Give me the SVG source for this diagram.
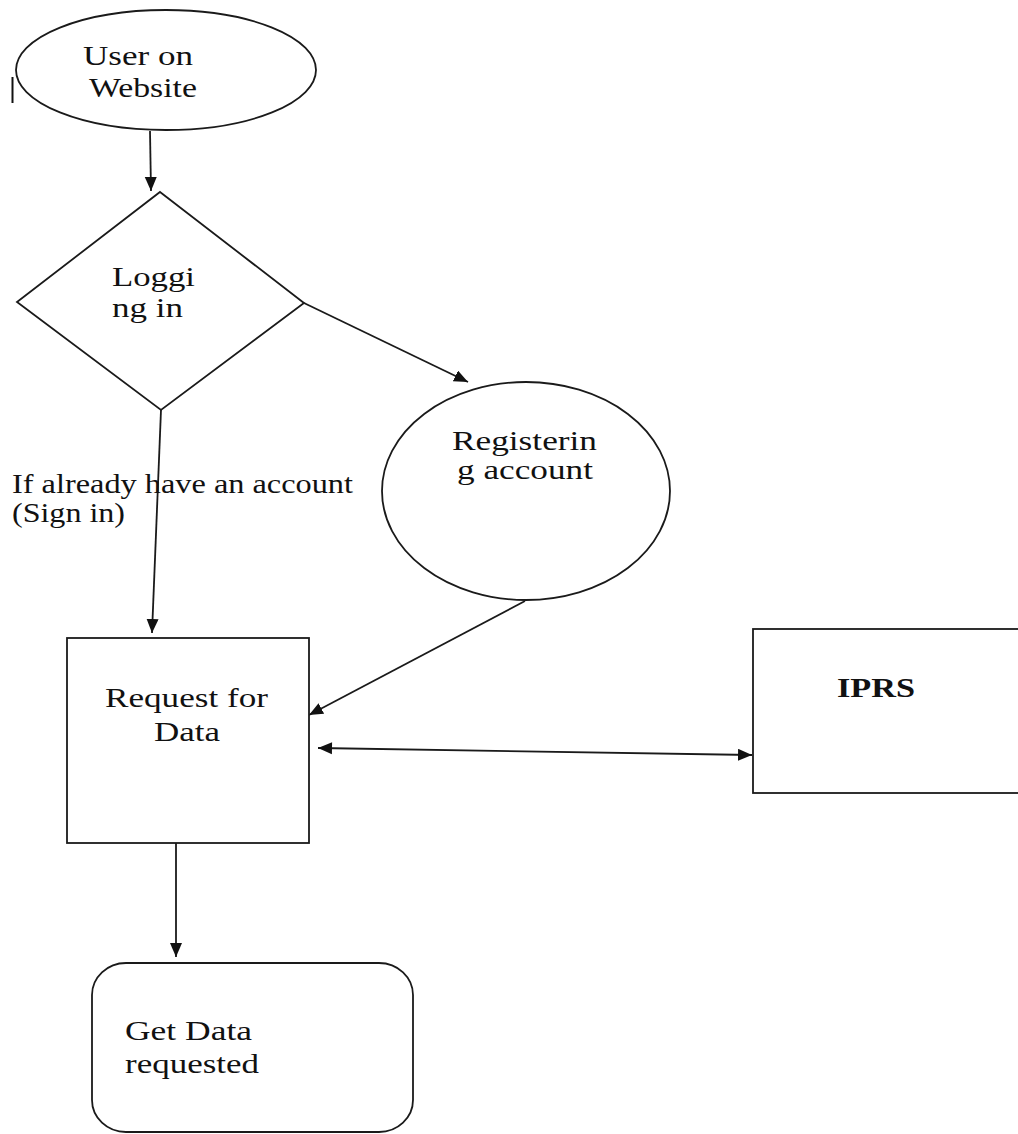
<svg xmlns="http://www.w3.org/2000/svg" width="1018" height="1134" viewBox="0 0 1018 1134">
<style>
.shape{fill:#fff;stroke:#1a1a1a;stroke-width:1.8}
.conn{fill:none;stroke:#1a1a1a;stroke-width:1.8}
.t{font-family:"Liberation Serif","Times New Roman",serif;font-size:27px;fill:#111}
.b{font-weight:bold}
</style>
<defs>
<marker id="ah" markerUnits="userSpaceOnUse" markerWidth="16" markerHeight="14" refX="14" refY="6" orient="auto">
<path d="M0,0 L14,6 L0,12 Z" fill="#111"/>
</marker>
<marker id="ahs" markerUnits="userSpaceOnUse" markerWidth="16" markerHeight="14" refX="0" refY="6" orient="auto">
<path d="M14,0 L0,6 L14,12 Z" fill="#111"/>
</marker>
</defs>
<rect width="1018" height="1134" fill="#fff"/>
<line x1="12.5" y1="77" x2="12.5" y2="103" stroke="#111" stroke-width="2"/>
<g id="connectors">
<line class="conn" x1="150" y1="131" x2="151" y2="191" marker-end="url(#ah)"/>
<line class="conn" x1="304" y1="303" x2="468" y2="382" marker-end="url(#ah)"/>
<line class="conn" x1="161" y1="410" x2="152" y2="633" marker-end="url(#ah)"/>
<line class="conn" x1="525" y1="601" x2="309" y2="715" marker-end="url(#ah)"/>
<line class="conn" x1="318" y1="748" x2="752" y2="755" marker-start="url(#ahs)" marker-end="url(#ah)"/>
<line class="conn" x1="176" y1="843" x2="176" y2="957" marker-end="url(#ah)"/>
</g>
<g id="user">
<ellipse class="shape" cx="166" cy="70" rx="150" ry="60"/>
<text class="t" x="83" y="65" textLength="110" lengthAdjust="spacingAndGlyphs">User on</text>
<text class="t" x="89" y="97" textLength="108" lengthAdjust="spacingAndGlyphs">Website</text>
</g>
<g id="logging">
<polygon class="shape" points="160,192 304,303 161,410 17,302"/>
<text class="t" x="112" y="286" textLength="83" lengthAdjust="spacingAndGlyphs">Loggi</text>
<text class="t" x="112" y="317" textLength="71" lengthAdjust="spacingAndGlyphs">ng in</text>
</g>
<g id="label-signin">
<text class="t" x="12" y="493" textLength="341" lengthAdjust="spacingAndGlyphs">If already have an account</text>
<text class="t" x="12" y="522" textLength="113" lengthAdjust="spacingAndGlyphs">(Sign in)</text>
</g>
<g id="registering">
<ellipse class="shape" cx="526" cy="491" rx="144" ry="109"/>
<text class="t" x="452" y="450" textLength="145" lengthAdjust="spacingAndGlyphs">Registerin</text>
<text class="t" x="457" y="479" textLength="136" lengthAdjust="spacingAndGlyphs">g account</text>
</g>
<g id="request">
<rect class="shape" x="67" y="638" width="242" height="205"/>
<text class="t" x="105" y="707" textLength="163" lengthAdjust="spacingAndGlyphs">Request for</text>
<text class="t" x="154" y="741" textLength="66" lengthAdjust="spacingAndGlyphs">Data</text>
</g>
<g id="iprs">
<rect class="shape" x="753" y="629" width="280" height="164"/>
<text class="t b" x="837" y="697" textLength="78" lengthAdjust="spacingAndGlyphs">IPRS</text>
</g>
<g id="getdata">
<rect class="shape" x="92" y="963" width="321" height="169" rx="34" ry="32"/>
<text class="t" x="125" y="1040" textLength="127" lengthAdjust="spacingAndGlyphs">Get Data</text>
<text class="t" x="125" y="1073" textLength="134" lengthAdjust="spacingAndGlyphs">requested</text>
</g>
</svg>
